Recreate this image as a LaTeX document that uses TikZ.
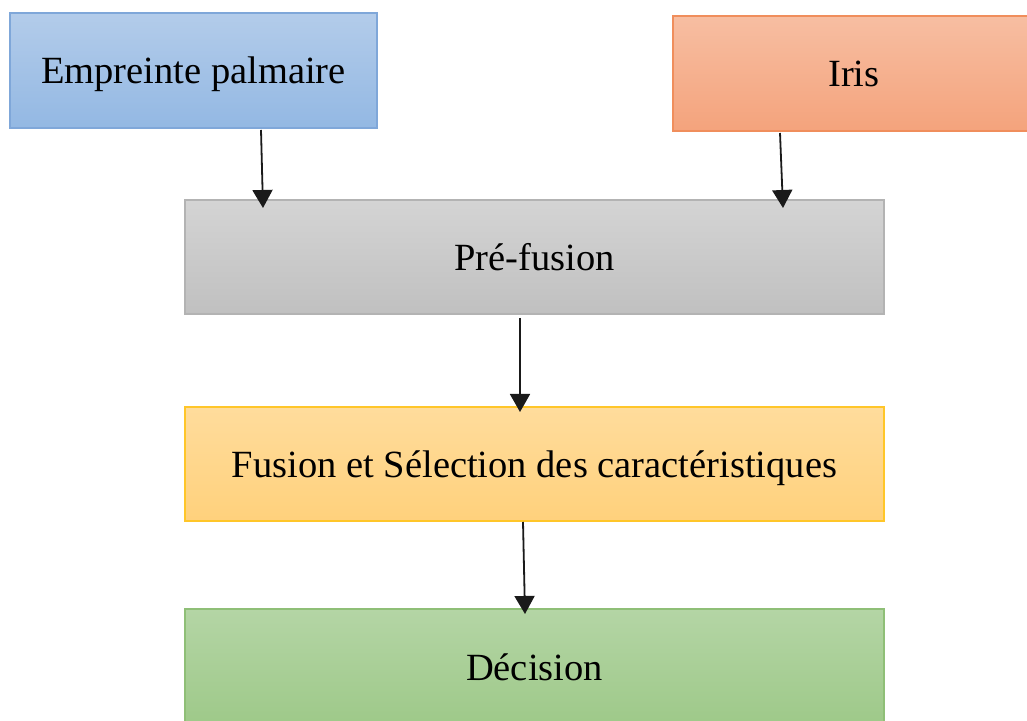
\documentclass[tikz,border=0pt]{standalone}
\usepackage{fontspec}
\setmainfont{Liberation Serif}
\usetikzlibrary{arrows.meta}
\definecolor{blueTop}{HTML}{B3CCEA}
\definecolor{blueBot}{HTML}{93B8E3}
\definecolor{blueLine}{HTML}{7FA7D9}
\definecolor{redTop}{HTML}{F7BEA2}
\definecolor{redBot}{HTML}{F4A37C}
\definecolor{redLine}{HTML}{F08E5C}
\definecolor{greyTop}{HTML}{D4D4D4}
\definecolor{greyBot}{HTML}{C0C0C0}
\definecolor{greyLine}{HTML}{B3B3B3}
\definecolor{yelTop}{HTML}{FFDC9C}
\definecolor{yelBot}{HTML}{FFD17C}
\definecolor{yelLine}{HTML}{FFC629}
\definecolor{grnTop}{HTML}{B4D5A5}
\definecolor{grnBot}{HTML}{9EC989}
\definecolor{grnLine}{HTML}{8FBF77}
\definecolor{arrowInk}{HTML}{1A1A1A}
\tikzset{
  stage/.style={draw, line width=1.5pt, inner sep=0pt, outer sep=0pt,
    minimum height=#1, font=\fontsize{38.5}{46}\selectfont,
    text height=27pt, text depth=0pt},
  stage/.default=114pt,
  flow/.style={draw=arrowInk, line width=1.8pt,
    -{Triangle[width=20pt,length=18pt]}}
}
\begin{document}
\begin{tikzpicture}[x=1pt,y=1pt]
  \useasboundingbox (0,0) rectangle (1027,720);
  \clip (0,0) rectangle (1027,720);

  % input modalities
  \node[stage=115pt, minimum width=367pt, draw=blueLine,
        top color=blueTop, bottom color=blueBot]
        (pal) at (193.5,649.5) {Empreinte palmaire};
  \node[stage=115pt, minimum width=362pt, draw=redLine,
        top color=redTop, bottom color=redBot]
        (iris) at (854,646.5) {Iris};

  % processing chain
  \node[stage, minimum width=699pt, draw=greyLine,
        top color=greyTop, bottom color=greyBot]
        (pre) at (534.5,463) {Pré-fusion};
  \node[stage, minimum width=699pt, draw=yelLine,
        top color=yelTop, bottom color=yelBot]
        (fus) at (534.5,256) {Fusion et Sélection des caractéristiques};
  \node[stage=116pt, minimum width=699pt, draw=grnLine,
        top color=grnTop, bottom color=grnBot]
        (dec) at (534.5,53) {Décision};

  % connectors
  \draw[flow] ([xshift=67.5pt,yshift=-2pt]pal.south)
           -- ([xshift=-271.5pt,yshift=-8pt]pre.north);
  \draw[flow] ([xshift=-74pt,yshift=-2pt]iris.south)
           -- ([xshift=248.5pt,yshift=-8pt]pre.north);
  \draw[flow] ([xshift=-14.5pt,yshift=-4pt]pre.south)
           -- ([xshift=-14.5pt,yshift=-5pt]fus.north);
  \draw[flow] ([xshift=-11.5pt,yshift=-1pt]fus.south)
           -- ([xshift=-9.5pt,yshift=-5pt]dec.north);
\end{tikzpicture}
\end{document}
